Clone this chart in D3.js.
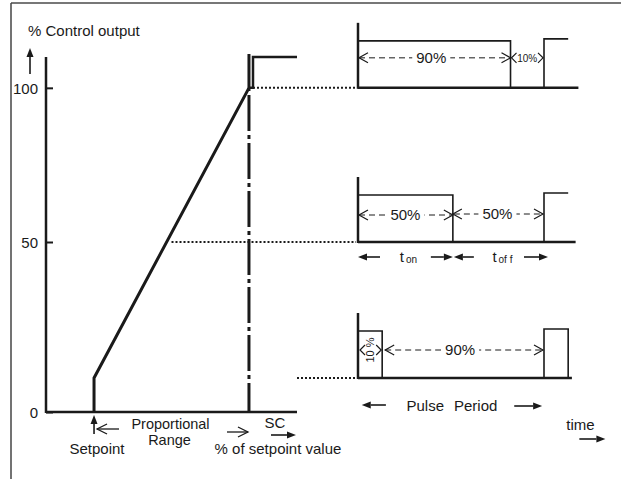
<!DOCTYPE html>
<html><head><meta charset="utf-8">
<script src="https://cdn.jsdelivr.net/npm/d3@7"></script>
<style>
html,body{margin:0;padding:0;background:#fff;}
svg{display:block;}
text{font-family:"Liberation Sans",Arial,sans-serif;fill:#1a1a1a;}
</style></head><body>
<svg id="c" width="621" height="479"></svg>
<script>
// ---------------- data ----------------
const yTicks = [0, 50, 100];
const yLevels = [0, 50, 110];            // control output % reference levels
const xDomain = [-31, 131];              // % of setpoint (setpoint = 0, end of proportional range = 100)
const rampX = [0, 0, 100, 100];          // transfer curve
const rampY = [0, 10, 100, 111];
const satX = [100, 102.6, 102.6, 131];   // saturated output step
const satY = [100, 100, 110, 110];
const rowLevels = [100, 50, 10];         // output level of each pulse row
const onTimes = [82, 51, 13];            // on-time as drawn (period = 100)
const period = 100;
const secondPulseEnd = [113, 113, 113];
const secondPulseFalls = [false, false, true];
const baselineEnd = [118.5, 117, 115];
const dotStartX = [102.6, 50, 131];
const onLabels = ["90%", "50%", "10 %"];
const offLabels = ["10%", "50%", "90%"];

// ---------------- setup ----------------
const svg = d3.select("#c");
const x = d3.scaleLinear().domain(xDomain).range([46, 297]);
const y = d3.scaleLinear().domain(yLevels).range([412, 242, 57]);
const t = d3.scaleLinear().domain([0, period]).range([358, 544]);
const INK = "#1a1a1a";

// frame
svg.append("line").attr("x1", 11).attr("y1", 3).attr("x2", 621).attr("y2", 3)
  .attr("stroke", "#777").attr("stroke-width", 2);
svg.append("line").attr("x1", 11).attr("y1", 3).attr("x2", 11).attr("y2", 479)
  .attr("stroke", "#444").attr("stroke-width", 1.5);

// helpers
function filledArrow(x1, y1, x2, y2) {
  const a = Math.atan2(y2 - y1, x2 - x1), L = 9, W = 3.5;
  const bx = x2 - L * Math.cos(a), by = y2 - L * Math.sin(a);
  svg.append("line").attr("x1", x1).attr("y1", y1).attr("x2", bx).attr("y2", by)
    .attr("stroke", INK).attr("stroke-width", 1.6);
  svg.append("path").attr("d",
    `M${x2},${y2}L${bx - W * Math.sin(a)},${by + W * Math.cos(a)}L${bx + W * Math.sin(a)},${by - W * Math.cos(a)}Z`)
    .attr("fill", INK);
}
function chevron(xt, yc, dir, w, h, sw) {
  svg.append("path").attr("d", `M${xt + dir * w},${yc - h}L${xt},${yc}L${xt + dir * w},${yc + h}`)
    .attr("fill", "none").attr("stroke", INK).attr("stroke-width", sw || 1.2);
}
function label(txt, xx, yy, size, anchor) {
  return svg.append("text").attr("x", xx).attr("y", yy).attr("font-size", size)
    .attr("text-anchor", anchor || "middle").text(txt);
}
function dashedWithLabel(x1, x2, yy, txt, size, cx) {
  svg.append("line").attr("x1", x1).attr("y1", yy).attr("x2", x2).attr("y2", yy)
    .attr("stroke", INK).attr("stroke-width", 1).attr("stroke-dasharray", "6,4");
  if (txt) {
    const tx = label(txt, cx, yy + 5, size);
    const bb = tx.node().getBBox();
    svg.insert("rect", () => tx.node()).attr("x", bb.x - 4).attr("y", yy - 3)
      .attr("width", bb.width + 8).attr("height", 6).attr("fill", "#fff");
  }
}

// ---------------- left chart ----------------
const yAxis = d3.axisLeft(y).tickValues(yTicks).tickSizeInner(-7).tickSizeOuter(0).tickPadding(8);
const ga = svg.append("g").attr("transform", `translate(${x(xDomain[0])},0)`).call(yAxis);
ga.select(".domain").remove();
ga.selectAll(".tick line").attr("stroke", INK).attr("stroke-width", 2);
ga.selectAll(".tick text").attr("font-size", 15).attr("fill", INK)
  .attr("font-family", "'Liberation Sans',Arial,sans-serif").attr("dy", "0.36em");
svg.append("line").attr("x1", x(xDomain[0])).attr("x2", x(xDomain[0]))
  .attr("y1", y(0) + 1).attr("y2", y(110)).attr("stroke", INK).attr("stroke-width", 2.5);
svg.append("line").attr("x1", x(xDomain[0])).attr("x2", x(xDomain[1]))
  .attr("y1", y(0)).attr("y2", y(0)).attr("stroke", INK).attr("stroke-width", 2.5);

label("% Control output", 28, 36, 15, "start");
filledArrow(30, 74, 30, 48);

// dash-dot line at end of proportional range
svg.append("line").attr("x1", x(100)).attr("x2", x(100)).attr("y1", y(0)).attr("y2", y(100))
  .attr("stroke", INK).attr("stroke-width", 3).attr("stroke-dasharray", "36,4,4,4")
  .attr("stroke-dashoffset", 7);

// ramp
const line = d3.line().x(d => x(d[0])).y(d => y(d[1]));
svg.append("path").attr("d", line(rampX.map((v, i) => [v, rampY[i]])))
  .attr("fill", "none").attr("stroke", INK).attr("stroke-width", 3).attr("stroke-linejoin", "miter");
svg.append("path").attr("d", line(satX.map((v, i) => [v, satY[i]])))
  .attr("fill", "none").attr("stroke", INK).attr("stroke-width", 2.5);

// dotted level lines
rowLevels.forEach((lv, i) => {
  svg.append("line").attr("x1", x(dotStartX[i])).attr("x2", t(0) - 2)
    .attr("y1", y(lv)).attr("y2", y(lv))
    .attr("stroke", INK).attr("stroke-width", 2).attr("stroke-dasharray", "2,2");
});

// bottom labels
filledArrow(x(0), 434, x(0), y(0) + 3);
label("Setpoint", x(0) + 3, 454, 15);
chevron(x(0) + 3, 429, 1, 10, 5, 1.3);
svg.append("line").attr("x1", x(0) + 3).attr("x2", x(0) + 25).attr("y1", 429).attr("y2", 429)
  .attr("stroke", INK).attr("stroke-width", 1.3);
label("Proportional", (x(0) + x(100)) / 2 - 1, 429, 14.5);
label("Range", (x(0) + x(100)) / 2 - 2, 445, 14.5);
svg.append("line").attr("x1", x(100) - 22).attr("x2", x(100) - 1).attr("y1", 432).attr("y2", 432)
  .attr("stroke", INK).attr("stroke-width", 1.3);
chevron(x(100) - 1, 432, -1, 10, 5, 1.3);
label("SC", x(100) + 26, 428, 15);
filledArrow(x(100) + 22, 435, x(100) + 47, 435);
label("% of setpoint value", x(100) + 29, 454, 15);

// ---------------- pulse trains ----------------
rowLevels.forEach((lv, i) => {
  const base = y(lv), top = base - 47;
  svg.append("line").attr("x1", t(0)).attr("x2", t(0)).attr("y1", base - 65).attr("y2", base + 1)
    .attr("stroke", INK).attr("stroke-width", 2.5);
  svg.append("line").attr("x1", t(0)).attr("x2", t(baselineEnd[i])).attr("y1", base).attr("y2", base)
    .attr("stroke", INK).attr("stroke-width", 2.5);
  svg.append("path").attr("d", `M${t(0)},${top}H${t(onTimes[i])}V${base}`)
    .attr("fill", "none").attr("stroke", INK).attr("stroke-width", 1.6);
  svg.append("path").attr("d", `M${t(period)},${base}V${top - 2}H${t(secondPulseEnd[i])}` +
      (secondPulseFalls[i] ? `V${base}` : ""))
    .attr("fill", "none").attr("stroke", INK).attr("stroke-width", 1.6);
});

// row 0 (90% on)
(function () {
  const base = y(rowLevels[0]), mid = base - 30, on = t(onTimes[0]);
  dashedWithLabel(t(0) + 1, on - 1, mid, onLabels[0], 15, (t(0) + on) / 2 - 3);
  chevron(t(0) + 1, mid, 1, 9, 5);
  chevron(on, mid, -1, 9, 5);
  chevron(on + 1, mid, 1, 5, 5);
  chevron(t(period) - 1, mid, -1, 5, 5);
  label(offLabels[0], (on + t(period)) / 2, mid + 4, 10);
})();

// row 1 (50% on)
(function () {
  const base = y(rowLevels[1]), mid = base - 27, on = t(onTimes[1]);
  dashedWithLabel(t(0) + 1, on - 1, mid, onLabels[1], 15, (t(0) + on) / 2);
  dashedWithLabel(on + 1, t(period) - 1, mid - 1, offLabels[1], 15, (on + t(period)) / 2 - 1);
  chevron(t(0) + 1, mid, 1, 9, 5);
  chevron(on, mid, -1, 9, 5);
  chevron(on, mid - 1, 1, 9, 5);
  chevron(t(period) - 1, mid - 1, -1, 9, 5);
  const ay = base + 15;
  filledArrow(t(0) + 22, ay, t(0), ay);
  filledArrow(on - 22, ay, on, ay);
  filledArrow(on + 21, ay, on + 1, ay);
  filledArrow(t(period) - 20, ay, t(period) + 4, ay);
  const l1 = label("t", (t(0) + on) / 2 + 3, base + 20, 15);
  l1.append("tspan").attr("font-size", 10).attr("dx", 2).attr("dy", 1).text("on");
  const l2 = label("t", (on + t(period)) / 2 + 4, base + 20, 15);
  l2.append("tspan").attr("font-size", 10).attr("dx", 2).attr("dy", 1).text("of f");
})();

// row 2 (10% on)
(function () {
  const base = y(rowLevels[2]), mid = base - 28, on = t(onTimes[2]);
  svg.append("text").attr("font-size", 11).attr("text-anchor", "middle")
    .attr("transform", `translate(${(t(0) + on) / 2 + 4},${mid}) rotate(-90)`).text(onLabels[2]);
  chevron(t(0) + 2, mid, 1, 5, 5);
  chevron(on - 1, mid, -1, 5, 5);
  dashedWithLabel(on + 3, t(period) - 1, mid, offLabels[2], 15, (on + t(period)) / 2 - 3);
  chevron(on + 3, mid, 1, 9, 5);
  chevron(t(period) - 1, mid, -1, 9, 5);
  const ay = base + 27;
  filledArrow(t(15), ay, t(2), ay);
  filledArrow(t(84), ay + 1, t(99), ay + 1);
  label("Pulse", t(50) - 7, base + 33, 15, "end");
  label("Period", t(50) + 3, base + 33, 15, "start");
})();

label("time", t(112), 430, 15, "start");
filledArrow(t(119), 439, t(133), 439);
</script>
</body></html>
